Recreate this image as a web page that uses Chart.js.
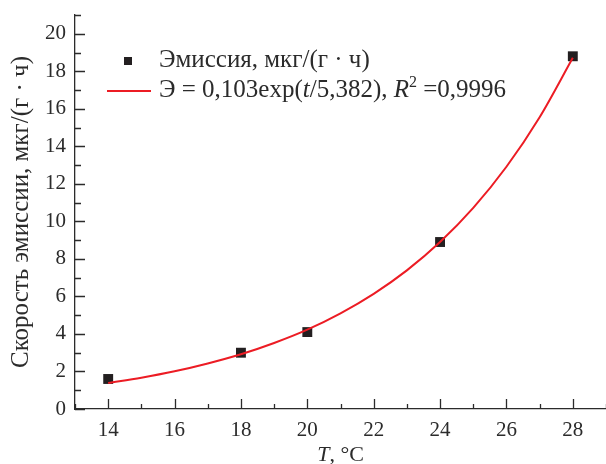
<!DOCTYPE html>
<html>
<head>
<meta charset="utf-8">
<script src="https://cdn.jsdelivr.net/npm/chart.js@4"></script>
<style>
  html, body { margin: 0; padding: 0; background: #fff; }
  #wrap { width: 606px; height: 464px; }
</style>
</head>
<body>
<div id="wrap"><canvas id="chart" width="606" height="464"></canvas></div>
<script>
// measured emission points
const tempC = [14, 18, 20, 24, 28];
const emission = [1.6, 3.0, 4.1, 8.9, 18.8];

// fitted curve, read every 1 °C
const fitT = [14, 15, 16, 17, 18, 19, 20, 21, 22, 23, 24, 25, 26, 27, 28];
const fitE = [1.39, 1.67, 2.01, 2.43, 2.92, 3.52, 4.23, 5.10, 6.14, 7.39, 8.90, 10.72, 12.91, 15.55, 18.72];

const xMin = 13, xMax = 29;
const yMin = 0, yMax = 21;

const legendPoint = 'Эмиссия, мкг/(г · ч)';
const yTitle = 'Скорость эмиссии, мкг/(г · ч)';

const FONT = '"Liberation Serif", "Times New Roman", serif';
const INK = '#2b2b2b';
const RED = '#ec1c24';

// text runs: [text, italic, superscript]
const legendFit = [
    ['Э = 0,103exp(', false, false],
    ['t', true, false],
    ['/5,382), ', false, false],
    ['R', true, false],
    ['2', false, true],
    [' =0,9996', false, false]
];
const xTitle = [['T', true, false], [', °C', false, false]];

function drawRuns(ctx, runs, x, y, size, align) {
    const fontOf = (r) => (r[1] ? 'italic ' : '') + (r[2] ? Math.round(size * 0.62) : size) + 'px ' + FONT;
    let total = 0;
    runs.forEach(r => { ctx.font = fontOf(r); total += ctx.measureText(r[0]).width; });
    let cx = align === 'center' ? x - total / 2 : x;
    runs.forEach(r => {
        ctx.font = fontOf(r);
        ctx.fillText(r[0], cx, r[2] ? y - size * 0.42 : y);
        cx += ctx.measureText(r[0]).width;
    });
}

// inward ticks, major ones longer
const innerTicks = {
    id: 'innerTicks',
    afterDatasetsDraw(chart) {
        const {ctx, chartArea, scales} = chart;
        ctx.save();
        ctx.strokeStyle = INK;
        ctx.lineWidth = 1.3;
        ctx.beginPath();
        scales.x.ticks.forEach(t => {
            const px = Math.round(scales.x.getPixelForValue(t.value)) + 0.5;
            const len = t.value % 2 === 0 ? 10 : 5;
            ctx.moveTo(px, chartArea.bottom);
            ctx.lineTo(px, chartArea.bottom - len);
        });
        scales.y.ticks.forEach(t => {
            const py = Math.round(scales.y.getPixelForValue(t.value)) + 0.5;
            const len = t.value % 2 === 0 ? 10 : 6;
            ctx.moveTo(chartArea.left, py);
            ctx.lineTo(chartArea.left + len, py);
        });
        ctx.stroke();
        ctx.restore();
    }
};

const labelsAndLegend = {
    id: 'labelsAndLegend',
    afterDraw(chart) {
        const {ctx, chartArea} = chart;
        const L = chartArea.left, T = chartArea.top;
        ctx.save();
        ctx.fillStyle = INK;
        ctx.textBaseline = 'alphabetic';
        ctx.textAlign = 'left';

        // legend
        ctx.fillStyle = '#231f20';
        ctx.fillRect(L + 49, T + 42, 8, 8);
        ctx.strokeStyle = RED;
        ctx.lineWidth = 2;
        ctx.beginPath();
        ctx.moveTo(L + 32, T + 76);
        ctx.lineTo(L + 76, T + 76);
        ctx.stroke();
        ctx.fillStyle = INK;
        drawRuns(ctx, [[legendPoint, false, false]], L + 84, T + 52, 25, 'left');
        drawRuns(ctx, legendFit, L + 84, T + 82, 25, 'left');

        // x title
        drawRuns(ctx, xTitle, (chartArea.left + chartArea.right) / 2, 461, 22, 'center');

        // y title
        ctx.translate(28, (chartArea.top + chartArea.bottom) / 2);
        ctx.rotate(-Math.PI / 2);
        drawRuns(ctx, [[yTitle, false, false]], 0, 0, 25, 'center');
        ctx.restore();
    }
};

new Chart(document.getElementById('chart'), {
    type: 'scatter',
    data: {
        datasets: [
            {
                type: 'line',
                label: 'fit',
                data: fitT.map((t, i) => ({x: t, y: fitE[i]})),
                borderColor: RED,
                borderWidth: 2,
                pointRadius: 0,
                cubicInterpolationMode: 'monotone',
                fill: false,
                order: 0
            },
            {
                label: 'emission',
                data: tempC.map((t, i) => ({x: t, y: emission[i]})),
                pointStyle: 'rect',
                pointRadius: 7,
                backgroundColor: '#231f20',
                borderColor: '#231f20',
                borderWidth: 0,
                order: 1
            }
        ]
    },
    options: {
        responsive: false,
        animation: false,
        layout: { autoPadding: false, padding: { top: 15, right: 0, bottom: 0, left: 0 } },
        plugins: { legend: { display: false }, tooltip: { enabled: false } },
        scales: {
            x: {
                type: 'linear',
                min: xMin,
                max: xMax,
                afterFit: (s) => { s.height = 55; s.paddingLeft = 0; s.paddingRight = 0; },
                grid: { display: false, drawTicks: false },
                border: { display: true, color: INK, width: 1.3 },
                ticks: {
                    stepSize: 1,
                    autoSkip: false,
                    maxRotation: 0,
                    padding: 9,
                    color: INK,
                    font: { family: FONT, size: 21 },
                    callback: (v) => (v % 2 === 0 && v > xMin && v < xMax ? String(v) : '')
                }
            },
            y: {
                type: 'linear',
                min: yMin,
                max: yMax,
                afterFit: (s) => { s.width = 75; s.paddingTop = 0; s.paddingBottom = 0; },
                grid: { display: false, drawTicks: false },
                border: { display: true, color: INK, width: 1.3 },
                ticks: {
                    stepSize: 1,
                    autoSkip: false,
                    padding: 9,
                    color: INK,
                    font: { family: FONT, size: 21 },
                    callback: (v) => (v % 2 === 0 ? String(v) : '')
                }
            }
        }
    },
    plugins: [innerTicks, labelsAndLegend]
});
</script>
</body>
</html>
